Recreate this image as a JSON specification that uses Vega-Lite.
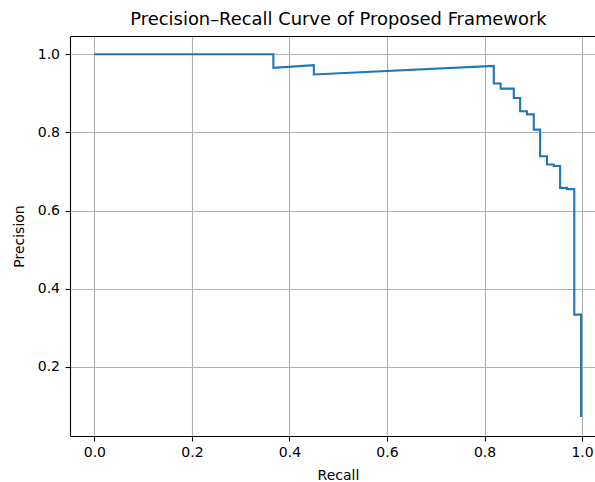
{
  "$schema": "https://vega.github.io/schema/vega-lite/v6.json",
  "autosize": {"type": "none"},
  "padding": {"left": 70, "top": 36, "right": 0, "bottom": 46},
  "width": 525,
  "height": 400,
  "background": "white",
  "title": {
    "text": "Precision–Recall Curve of Proposed Framework",
    "font": "DejaVu Sans",
    "fontSize": 17.9,
    "fontWeight": "normal",
    "color": "black",
    "anchor": "middle",
    "frame": "group",
    "dx": 6,
    "dy": 17,
    "baseline": "alphabetic",
    "offset": 10
  },
  "data": {
    "values": [
      {"i": 0, "recall": 0.0, "precision": 1.0},
      {"i": 1, "recall": 0.367, "precision": 1.0},
      {"i": 2, "recall": 0.367, "precision": 0.965},
      {"i": 3, "recall": 0.450, "precision": 0.972},
      {"i": 4, "recall": 0.450, "precision": 0.948},
      {"i": 5, "recall": 0.819, "precision": 0.970},
      {"i": 6, "recall": 0.819, "precision": 0.925},
      {"i": 7, "recall": 0.833, "precision": 0.925},
      {"i": 8, "recall": 0.833, "precision": 0.912},
      {"i": 9, "recall": 0.860, "precision": 0.912},
      {"i": 10, "recall": 0.860, "precision": 0.888},
      {"i": 11, "recall": 0.873, "precision": 0.888},
      {"i": 12, "recall": 0.873, "precision": 0.854},
      {"i": 13, "recall": 0.887, "precision": 0.854},
      {"i": 14, "recall": 0.887, "precision": 0.846},
      {"i": 15, "recall": 0.901, "precision": 0.846},
      {"i": 16, "recall": 0.901, "precision": 0.807},
      {"i": 17, "recall": 0.914, "precision": 0.807},
      {"i": 18, "recall": 0.914, "precision": 0.739},
      {"i": 19, "recall": 0.928, "precision": 0.739},
      {"i": 20, "recall": 0.928, "precision": 0.718},
      {"i": 21, "recall": 0.942, "precision": 0.718},
      {"i": 22, "recall": 0.942, "precision": 0.714},
      {"i": 23, "recall": 0.955, "precision": 0.714},
      {"i": 24, "recall": 0.955, "precision": 0.658},
      {"i": 25, "recall": 0.969, "precision": 0.658},
      {"i": 26, "recall": 0.969, "precision": 0.655},
      {"i": 27, "recall": 0.984, "precision": 0.655},
      {"i": 28, "recall": 0.984, "precision": 0.334},
      {"i": 29, "recall": 0.998, "precision": 0.334},
      {"i": 30, "recall": 0.998, "precision": 0.072}
    ]
  },
  "layer": [
    {
      "mark": {"type": "line", "color": "#1f77b4", "strokeWidth": 2.1},
      "encoding": {
        "x": {
          "field": "recall", "type": "quantitative",
          "scale": {"domain": [-0.05, 1.0265], "nice": false, "zero": false},
          "axis": {
            "orient": "bottom",
            "values": [0, 0.2, 0.4, 0.6, 0.8, 1.0],
            "format": ".1f",
            "title": "Recall",
            "titleX": 268,
            "titleY": 43,
            "titleBaseline": "alphabetic",
            "titleAlign": "center",
            "labelPadding": 4
          }
        },
        "y": {
          "field": "precision", "type": "quantitative",
          "scale": {"domain": [0.0235, 1.0465], "nice": false, "zero": false},
          "axis": {
            "orient": "left",
            "values": [0.2, 0.4, 0.6, 0.8, 1.0],
            "format": ".1f",
            "title": "Precision",
            "titleAngle": -90,
            "titleX": -46.6,
            "titleY": 200,
            "titleBaseline": "alphabetic",
            "titleAlign": "center",
            "labelPadding": 5.5
          }
        },
        "order": {"field": "i", "type": "quantitative"}
      }
    },
    {
      "mark": {"type": "line", "strokeOpacity": 0},
      "encoding": {
        "x": {
          "field": "recall", "type": "quantitative",
          "axis": {"orient": "top", "labels": false, "ticks": false, "grid": false, "title": null}
        },
        "y": {"field": "precision", "type": "quantitative", "axis": null},
        "order": {"field": "i", "type": "quantitative"}
      }
    }
  ],
  "resolve": {"axis": {"x": "independent", "y": "independent"}},
  "config": {
    "view": {"stroke": null},
    "axis": {
      "domainColor": "black",
      "domainWidth": 1.1,
      "tickColor": "black",
      "tickWidth": 1.1,
      "tickSize": 5,
      "grid": true,
      "gridColor": "#b0b0b0",
      "gridWidth": 1.1,
      "labelFont": "DejaVu Sans",
      "labelFontSize": 14,
      "labelColor": "black",
      "titleFont": "DejaVu Sans",
      "titleFontSize": 14,
      "titleFontWeight": "normal",
      "titleColor": "black"
    }
  }
}
